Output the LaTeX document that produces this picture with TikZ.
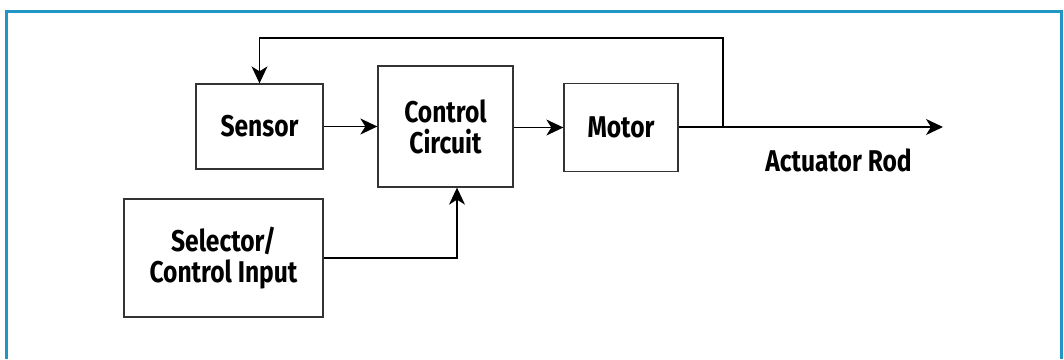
\documentclass[tikz,border=0pt]{standalone}
\usepackage{fontspec}
\setmainfont[FakeStretch=0.82]{Fira Sans}
\usetikzlibrary{arrows.meta}
\definecolor{frameblue}{HTML}{2196C4}
\definecolor{boxline}{HTML}{333333}
\begin{document}
\begin{tikzpicture}[x=1pt,y=-1pt,
  blk/.style={draw=boxline,line width=1.3pt,inner sep=0pt,align=center,font=\fontsize{30}{31}\selectfont\bfseries},
  wire/.style={draw=black,line width=1.3pt},
  arr/.style={wire,-{Stealth[length=17pt,width=16pt,inset=5pt]}},
  lbl/.style={font=\fontsize{30}{31}\selectfont\bfseries}]
\useasboundingbox (0,0) rectangle (1064,359);
\draw[frameblue,line width=3pt] (6,359) -- (6,11.5) -- (1061,11.5) -- (1061,359);
\node[blk,minimum width=127pt,minimum height=85pt] (sensor) at (259.5,126.5) {Sensor};
\node[blk,minimum width=135pt,minimum height=121pt] (ctrl) at (445.5,126.5) {Control\\Circuit};
\node[blk,minimum width=114pt,minimum height=88pt] (motor) at (621,127.5) {Motor};
\node[blk,minimum width=199pt,minimum height=118pt] (sel) at (223.5,258) {Selector/\\Control Input};
\coordinate (split) at (723,127);
\coordinate (out) at (943,127);
\coordinate (fbtop) at (723,38);
\node[lbl] (rod) at (838.5,160) {Actuator Rod};
\draw[arr] (sensor.east) -- (ctrl.west |- sensor.east);
\draw[arr] (ctrl.east |- motor.west) -- (motor.west);
\draw[wire] (motor.east |- split) -- (split);
\draw[arr] (split) -- (out);
\draw[arr] (split) -- (fbtop) -| (sensor.north);
\draw[arr] (sel.east) -| (ctrl.south -| 457,0);
\end{tikzpicture}
\end{document}
